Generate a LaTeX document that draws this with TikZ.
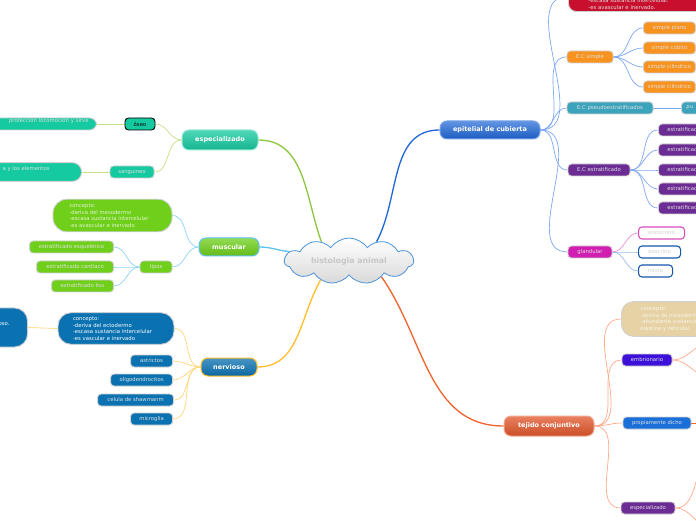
\documentclass[tikz,border=0pt]{standalone}
\usepackage{fontspec}
\setmainfont{DejaVu Sans}
\usepackage{xcolor}
\usetikzlibrary{shapes.symbols, backgrounds}

\definecolor{epiblue}{HTML}{1E66D6}
\definecolor{epiedge}{HTML}{7FA8F2}
\definecolor{espgreen}{HTML}{15C9A0}
\definecolor{espedge}{HTML}{8DC63F}
\definecolor{espsub}{HTML}{C8E085}
\definecolor{muscgreen}{HTML}{6FCF1A}
\definecolor{muscedge}{HTML}{5CC2EE}
\definecolor{muscsub}{HTML}{8ED4F4}
\definecolor{nervblue}{HTML}{0B72B2}
\definecolor{nervedge}{HTML}{FFBE2A}
\definecolor{nervsub}{HTML}{FFD77A}
\definecolor{conjred}{HTML}{E2572B}
\definecolor{conjedge}{HTML}{F2622D}
\definecolor{conjsub}{HTML}{FFA98A}
\definecolor{ecorange}{HTML}{F7931E}
\definecolor{ecteal}{HTML}{3BA3BC}
\definecolor{ecpurple}{HTML}{6B2C93}
\definecolor{glmag}{HTML}{D01FB0}
\definecolor{crimson}{HTML}{C8102E}
\definecolor{tanbox}{HTML}{E6D2A4}
\definecolor{embrind}{HTML}{3B10D8}
\definecolor{propblue}{HTML}{1A6FD8}
\definecolor{cloudline}{HTML}{4B93DA}

\tikzset{
  mainnode/.style={rounded corners=7pt, line width=1pt, font=\fontsize{6.5}{7}\selectfont\bfseries,
    text=white, minimum height=18pt, inner sep=0pt},
  leaf/.style={rounded corners=3.5pt, draw=black!18, line width=0.9pt, font=\fontsize{5.3}{6.6}\selectfont,
    text=white!88!black, minimum height=12pt, inner xsep=4pt, inner ysep=0pt},
  ringleaf/.style={leaf, fill=white, line width=1.1pt, text=black!18},
  notebox/.style={leaf, align=left, rounded corners=12pt, inner ysep=4pt},
  trunk/.style={line width=1.3pt},
  twig/.style={line width=0.7pt}
}

\begin{document}
\begin{tikzpicture}[x=1pt, y=1pt]
\useasboundingbox (0,0) rectangle (696,520);

% centre
\node[cloud, cloud puffs=11, cloud puff arc=110, aspect=3.4, minimum width=129pt, minimum height=38pt,
  draw=cloudline, line width=0.8pt, top color=white, bottom color=black!15, text=black!22,
  font=\fontsize{7.8}{8}\selectfont\bfseries, inner sep=0pt] (histo) at (349,259) {histologia animal};

% main branches
\node[mainnode, top color=epiblue!70!white, bottom color=epiblue!90!black, draw=epiblue!60!white, minimum width=100pt] (epi) at (490,390) {epitelial de cubierta};
\node[mainnode, top color=espgreen!75!white, bottom color=espgreen!90!black, draw=espgreen!45!white, minimum width=76pt, minimum height=20pt] (espe) at (220,380) {especializado};
\node[mainnode, top color=muscgreen!75!white, bottom color=muscgreen!90!black, draw=muscedge, minimum width=60pt] (musc) at (229,273) {muscular};
\node[mainnode, top color=nervblue!75!white, bottom color=nervblue!90!black, draw=nervedge, minimum width=56pt] (nerv) at (229,153) {nervioso};
\node[mainnode, top color=conjred!75!white, bottom color=conjred!90!black, draw=conjred!50!white, minimum width=90pt, minimum height=20pt] (conj) at (549,94) {tejido conjuntivo};

% epitelial de cubierta
\node[notebox, fill=crimson, anchor=south west, text width=130pt, rounded corners=8pt, inner ysep=2pt, inner xsep=20pt] (epiconc) at (568,508) {\mbox{}\\\mbox{}\\\mbox{}\\-escasa sustancia intercelular.\\-es avascular e inervado.};
\node[leaf, fill=ecorange, minimum width=46pt] (ecsim) at (590,463) {E.C simple};
\node[leaf, fill=ecorange, anchor=west, minimum width=52pt] (simp1) at (643,492) {simple plano};
\node[leaf, fill=ecorange, anchor=west, minimum width=52pt] (simp2) at (643,472) {simple cúbito};
\node[leaf, fill=ecorange, anchor=west, minimum width=52pt] (simp3) at (643,453) {simple cilíndrico};
\node[leaf, fill=ecorange, anchor=west, minimum width=52pt] (simp4) at (643,433) {simple cilíndrico};
\node[leaf, fill=ecteal, minimum width=86pt] (ecpseu) at (610,412) {E.C pseudoestratificados};
\node[leaf, fill=ecteal, anchor=west, text width=32pt, align=left, inner xsep=5pt] (pseu1) at (681,412) {pu};
\node[leaf, fill=ecpurple, minimum width=62pt] (ecestr) at (599,350) {E.C estratificado};
\foreach \i/\y in {1/390, 2/370, 3/350, 4/331, 5/312}
  \node[leaf, fill=ecpurple, anchor=west, text width=50pt, align=left, inner xsep=9pt] (estr\i) at (658,\y) {estratificado};
\node[leaf, fill=glmag, minimum width=44pt] (gland) at (590,268) {glandular};
\node[ringleaf, draw=glmag!80!white, anchor=west, minimum width=46pt] (endo) at (638,287) {endocrino};
\node[ringleaf, draw=propblue!80!black, anchor=west, minimum width=42pt] (exo) at (638,268) {exocrino};
\node[ringleaf, draw=propblue!80!black, anchor=west, minimum width=34pt] (mixta) at (638,249) {mixta};

% tejido conjuntivo
\node[notebox, fill=tanbox, anchor=west, text width=80pt, inner xsep=19pt, inner ysep=5pt, text=white!75!tanbox] (conjconc) at (621,201) {concepto:\\-deriva de mesodermo\\-abundante sustancia\\elastina y reticula)};
\node[leaf, fill=embrind, minimum width=50pt] (embr) at (647,160) {embrionario};
\node[leaf, fill=propblue, minimum width=68pt] (propio) at (657,97) {propiamente dicho};
\node[leaf, fill=ecpurple, minimum width=54pt] (espr) at (648,12) {especializado};
\coordinate (embrA) at (712,178);
\coordinate (embrB) at (712,142);
\coordinate (propA) at (712,97);
\coordinate (esprA) at (716,62);
\coordinate (esprB) at (712,-8);

% especializado (izq.)
\node[leaf, fill=espgreen, draw=black, text=black, minimum width=30pt] (oseo) at (140,396) {óseo};
\node[leaf, fill=espgreen, anchor=east, text width=100pt, align=right, inner xsep=8pt, rounded corners=7pt] (oseoconc) at (97,396) {protección locomoción y sirve\\\mbox{}};
\node[leaf, fill=espgreen, minimum width=44pt] (sang) at (132,348) {sanguineo};
\node[leaf, fill=espgreen, anchor=east, text width=100pt, align=right, inner xsep=32pt, inner ysep=4pt, rounded corners=9pt] (sangconc) at (82,348) {a y los elementos\\\mbox{}};

% muscular
\node[notebox, fill=muscgreen, text width=86pt, inner xsep=16.5pt, inner ysep=4.5pt, rounded corners=14pt, text=white!80!muscgreen] (muscconc) at (112.5,304.5) {concepto:\\-deriva del mesodermo\\-escasa sustancia intercelular\\-es avascular e inervado};
\node[leaf, fill=muscgreen, minimum width=32pt] (tipos) at (156,253) {tipos};
\node[leaf, fill=muscgreen, anchor=east, minimum width=84pt] (esque) at (114,273) {estratificado esquelético};
\node[leaf, fill=muscgreen, anchor=east, minimum width=77pt] (cardi) at (114,253) {estratificado cardiaco};
\node[leaf, fill=muscgreen, anchor=east, minimum width=62pt] (liso) at (114,234) {estratificado liso};

% nervioso
\node[notebox, fill=nervblue, text width=86pt, inner xsep=15pt, inner ysep=4pt, rounded corners=13pt, text=white] (nervconc) at (116,191.5) {concepto:\\-deriva del ectodermo\\-escasa sustancia intercelular\\-es vascular e inervado};
\node[leaf, fill=nervblue, anchor=east, text width=50pt, align=right, inner xsep=18pt, minimum height=39pt, rounded corners=13pt, text=white] (nervleft) at (28,192.5) {oso.\\\mbox{}};
\node[leaf, fill=nervblue, anchor=east, minimum width=42pt] (astr) at (173,159) {astrictos};
\node[leaf, fill=nervblue, anchor=east, minimum width=62pt] (oligo) at (173,140) {oligodendrocitos};
\node[leaf, fill=nervblue, anchor=east, minimum width=76pt] (schw) at (174,120) {celula de shawmanm};
\node[leaf, fill=nervblue, anchor=east, minimum width=42pt] (micro) at (173,101) {microglia};

\begin{scope}[on background layer]
  \fill[white] (0,0) rectangle (696,520);
  % trunks
  \draw[trunk, epiblue] (histo.35) to[out=62, in=180] (epi.west);
  \draw[trunk, espedge] (histo.145) to[out=110, in=0] (espe.east);
  \draw[trunk, muscedge] (histo.171) to[out=175, in=0] (musc.east);
  \draw[trunk, nervedge] (histo.214) to[out=240, in=0] (nerv.east);
  \draw[trunk, conjedge] (histo.334) to[out=-55, in=180] (conj.west);
  % epitelial
  \foreach \c in {epiconc, ecsim, ecpseu, ecestr, gland}
    \draw[twig, epiedge] (epi.east) to[out=0, in=180] (\c.west);
  \foreach \c in {simp1, simp2, simp3, simp4}
    \draw[twig, epiedge] (ecsim.east) to[out=0, in=180] (\c.west);
  \draw[twig, epiedge] (ecpseu.east) -- (pseu1.west);
  \foreach \c in {estr1, estr2, estr3, estr4, estr5}
    \draw[twig, epiedge] (ecestr.east) to[out=0, in=180] (\c.west);
  \draw[twig, glmag!50!white] (gland.east) to[out=0, in=180] (endo.west);
  \draw[twig, propblue!45!white] (gland.east) to[out=0, in=180] (exo.west);
  \draw[twig, propblue!45!white] (gland.east) to[out=0, in=180] (mixta.west);
  % conjuntivo
  \foreach \c in {conjconc, embr, propio, espr}
    \draw[twig, conjsub] (conj.east) to[out=0, in=180] (\c.west);
  \draw[twig, conjsub] (embr.east) to[out=0, in=180] (embrA);
  \draw[twig, conjsub] (embr.east) to[out=0, in=180] (embrB);
  \draw[twig, conjedge] (propio.east) -- (propA);
  \draw[twig, conjsub] (espr.east) to[out=0, in=180] (esprA);
  \draw[twig, conjsub] (espr.east) to[out=0, in=180] (esprB);
  % especializado
  \foreach \c in {oseo, sang}
    \draw[twig, espsub] (espe.west) to[out=180, in=0] (\c.east);
  \draw[twig, espsub] (oseo.west) -- (oseoconc.east);
  \draw[twig, espsub] (sang.west) -- (sangconc.east);
  % muscular
  \foreach \c in {muscconc, tipos}
    \draw[twig, muscsub] (musc.west) to[out=180, in=0] (\c.east);
  \foreach \c in {esque, cardi, liso}
    \draw[twig, muscsub] (tipos.west) to[out=180, in=0] (\c.east);
  % nervioso
  \foreach \c in {nervconc, astr, oligo, schw, micro}
    \draw[twig, nervsub] (nerv.west) to[out=180, in=0] (\c.east);
  \draw[twig, nervsub] (nervconc.west) -- (nervleft.east);
\end{scope}
\end{tikzpicture}
\end{document}
